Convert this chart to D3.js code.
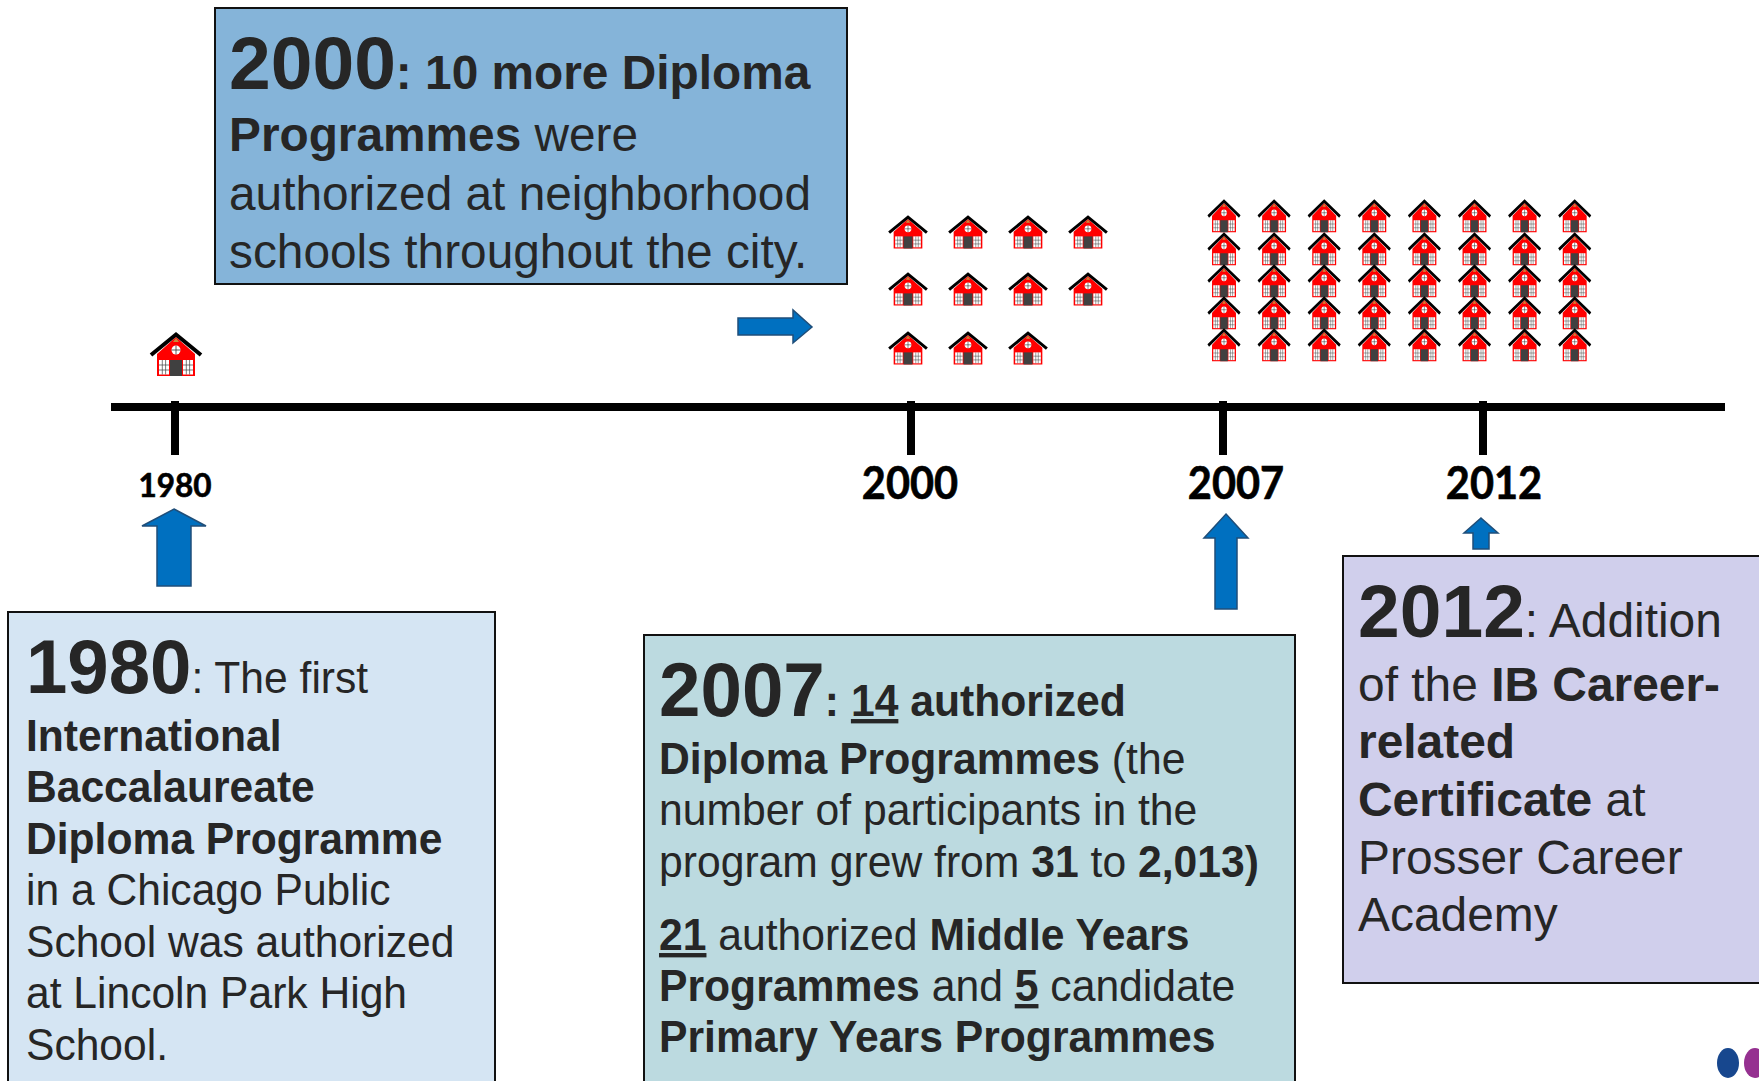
<!DOCTYPE html>
<html>
<head>
<meta charset="utf-8">
<script src="https://cdn.jsdelivr.net/npm/d3@7"></script>
<style>
  html, body { margin: 0; padding: 0; background: #fff; overflow: hidden; }
  svg { display: block; }
  .box-text { font-family: "Liberation Sans", Arial, sans-serif; fill: #262626; }
  .tick-label { font-family: Lato, sans-serif; font-weight: 700; fill: #000; stroke: #000; stroke-width: 0.6; text-anchor: middle; }
</style>
</head>
<body>
<div id="chart"></div>
<script>
const years = [1980, 2000, 2007, 2012]
const schoolCounts = [1, 11, 40, 0]

// run format: [text, 'b' bold / 'u' bold underlined / 'y' big year / 'n' normal]
const text1980 = [
  [['1980', 'y'], [': The first', 'n']],
  [['International', 'b']],
  [['Baccalaureate', 'b']],
  [['Diploma Programme', 'b']],
  [['in a Chicago Public', 'n']],
  [['School was authorized', 'n']],
  [['at Lincoln Park High', 'n']],
  [['School.', 'n']]
]
const text2000 = [
  [['2000', 'y'], [': 10 more Diploma', 'b']],
  [['Programmes', 'b'], [' were', 'n']],
  [['authorized at neighborhood', 'n']],
  [['schools throughout the city.', 'n']]
]
const text2007 = [
  [['2007', 'y'], [': ', 'b'], ['14', 'u'], [' authorized', 'b']],
  [['Diploma Programmes', 'b'], [' (the', 'n']],
  [['number of participants in the', 'n']],
  [['program grew from ', 'n'], ['31', 'b'], [' to ', 'n'], ['2,013)', 'b']],
  [['21', 'u'], [' authorized ', 'n'], ['Middle Years', 'b']],
  [['Programmes', 'b'], [' and ', 'n'], ['5', 'u'], [' candidate', 'n']],
  [['Primary Years Programmes', 'b']]
]
const text2012 = [
  [['2012', 'y'], [': Addition', 'n']],
  [['of the ', 'n'], ['IB Career-', 'b']],
  [['related', 'b']],
  [['Certificate', 'b'], [' at', 'n']],
  [['Prosser Career', 'n']],
  [['Academy', 'n']]
]

const width = 1759
const height = 1081

const svg = d3
  .select('#chart')
  .append('svg')
  .attr('width', width)
  .attr('height', height)

// the timeline is not to scale in the original, so the scale is piecewise
const xScale = d3
  .scaleLinear()
  .domain(years)
  .range([175, 911, 1223, 1483])

const axisY = 407

// boxes first, everything else sits on top
const boxes = [
  { x: 8, y: 612, w: 487, h: 490, fill: '#D5E5F3', lines: text1980, tx: 26, sx: 0.979, base: [693, 751, 802, 854, 905, 957, 1008, 1060], fs: 43.5, yfs: 76 },
  { x: 215, y: 8, w: 632, h: 276, fill: '#85B4D9', lines: text2000, tx: 229, sx: 1, base: [89, 151, 210, 268], fs: 47.8, yfs: 75 },
  { x: 644, y: 635, w: 651, h: 470, fill: '#BCDAE0', lines: text2007, tx: 659, sx: 0.981, base: [716, 774, 825, 877, 950, 1001, 1052], fs: 43.5, yfs: 76 },
  { x: 1343, y: 556, w: 430, h: 427, fill: '#D0CFEC', lines: text2012, tx: 1358, sx: 1, base: [637, 701, 758, 816, 874, 931], fs: 47.9, yfs: 75 }
]

boxes.forEach(function(b) {
  svg
    .append('rect')
    .attr('x', b.x)
    .attr('y', b.y)
    .attr('width', b.w)
    .attr('height', b.h)
    .attr('fill', b.fill)
    .attr('stroke', '#111')
    .attr('stroke-width', 2)

  const text = svg
    .selectAll(null)
    .data(b.lines)
    .enter()
    .append('text')
    .attr('class', 'box-text')
    .attr('transform', (d, i) => 'translate(' + b.tx + ',' + b.base[i] + ') scale(' + b.sx + ',1)')
    .attr('font-size', b.fs)
    .style('white-space', 'pre')

  text
    .selectAll('tspan')
    .data(d => d)
    .enter()
    .append('tspan')
    .text(d => d[0])
    .attr('font-weight', d => (d[1] === 'n' ? 400 : 700))
    .attr('font-size', d => (d[1] === 'y' ? b.yfs : null))
    .style('text-decoration', d => (d[1] === 'u' ? 'underline' : null))
})

// axis line
svg
  .append('line')
  .attr('x1', 111)
  .attr('x2', 1725)
  .attr('y1', axisY)
  .attr('y2', axisY)
  .attr('stroke', '#000')
  .attr('stroke-width', 8)

svg
  .selectAll('.tick')
  .data(years)
  .enter()
  .append('line')
  .attr('class', 'tick')
  .attr('x1', d => xScale(d))
  .attr('x2', d => xScale(d))
  .attr('y1', 401)
  .attr('y2', 455)
  .attr('stroke', '#000')
  .attr('stroke-width', 8)

// labels do not sit exactly under the ticks, and the digits are a bit taller than Lato's
const labelOffset = [0, -1, 13, 11]
svg
  .selectAll('.tick-label')
  .data(years)
  .enter()
  .append('text')
  .attr('class', 'tick-label')
  .attr('transform', function(d, i) {
    return 'translate(' + (xScale(d) + labelOffset[i]) + ',' + (i === 0 ? 497 : 499) + ') scale(1,' + (i === 0 ? 1.03 : 1.1) + ')'
  })
  .attr('font-size', (d, i) => (i === 0 ? 31.5 : 41.5))
  .text(d => d)

// school icon, drawn around (0,0) = roof peak, 53 wide and 43 tall
const defs = svg.append('defs')
const house = defs.append('g').attr('id', 'school')
house.append('path').attr('d', 'M-19,21 L0,4 L19,21 L19,43 L-19,43 Z').attr('fill', '#f00')
house.append('path').attr('d', 'M-3,9 L0,5 L3,9 Z').attr('fill', '#c98a3a')
house
  .append('path')
  .attr('d', 'M-25,22 L0,1.5 L25,22')
  .attr('fill', 'none')
  .attr('stroke', '#000')
  .attr('stroke-width', 4)
house.append('circle').attr('cy', 17).attr('r', 4.5).attr('fill', '#fff')
house
  .append('path')
  .attr('d', 'M-4.5,17 H4.5 M0,12.5 V21.5')
  .attr('stroke', '#333')
  .attr('stroke-width', 0.8)
house.append('rect').attr('x', -6).attr('y', 27).attr('width', 12).attr('height', 16).attr('fill', '#404040')
;[-17, 7].forEach(function(wx) {
  house.append('rect').attr('x', wx).attr('y', 27).attr('width', 10).attr('height', 14.5).attr('fill', '#fff')
  house
    .append('path')
    .attr('d', `M${wx},32 h10 M${wx},37 h10 M${wx + 3.3},27 v14.5 M${wx + 6.6},27 v14.5`)
    .attr('stroke', '#444')
    .attr('stroke-width', 0.7)
})

const houseLayout = [
  { year: 1980, cols: 1, x: 176, dx: 0, ys: [333], sx: 1, sy: 1 },
  { year: 2000, cols: 4, x: 908, dx: 60, ys: [216, 273, 332], sx: 0.755, sy: 0.755 },
  { year: 2007, cols: 8, x: 1224, dx: 50.1, ys: [200, 233, 265, 297, 329], sx: 0.63, sy: 0.75 }
]

houseLayout.forEach(function(g) {
  const count = schoolCounts[years.indexOf(g.year)]
  svg
    .selectAll(null)
    .data(d3.range(count))
    .enter()
    .append('use')
    .attr('href', '#school')
    .attr('transform', function(d) {
      const col = d % g.cols
      const row = Math.floor(d / g.cols)
      return 'translate(' + (g.x + col * g.dx) + ',' + g.ys[row] + ') scale(' + g.sx + ',' + g.sy + ')'
    })
})

// blue block arrows
const arrowUp = (tipX, tipY, headHalf, headY, shaftHalf, bottom) =>
  [
    [tipX, tipY],
    [tipX + headHalf, headY],
    [tipX + shaftHalf, headY],
    [tipX + shaftHalf, bottom],
    [tipX - shaftHalf, bottom],
    [tipX - shaftHalf, headY],
    [tipX - headHalf, headY]
  ]

const arrows = [
  arrowUp(174, 509, 32, 526, 17, 586),
  arrowUp(1226, 514, 22, 538, 11, 609),
  arrowUp(1481, 518, 17, 533, 8, 549),
  [[738, 318], [793, 318], [793, 310], [812, 327], [793, 343], [793, 335], [738, 335]]
]

svg
  .selectAll('.arrow')
  .data(arrows)
  .enter()
  .append('path')
  .attr('class', 'arrow')
  .attr('d', d => d3.line()(d) + 'Z')
  .attr('fill', '#0070C0')
  .attr('stroke', '#1F4E79')
  .attr('stroke-width', 1.5)

// corner of a logo, cut off by the page edge
svg.append('ellipse').attr('cx', 1728).attr('cy', 1063).attr('rx', 11).attr('ry', 15).attr('fill', '#17478E')
svg.append('ellipse').attr('cx', 1755).attr('cy', 1063).attr('rx', 11).attr('ry', 15).attr('fill', '#953090')
</script>
</body>
</html>
